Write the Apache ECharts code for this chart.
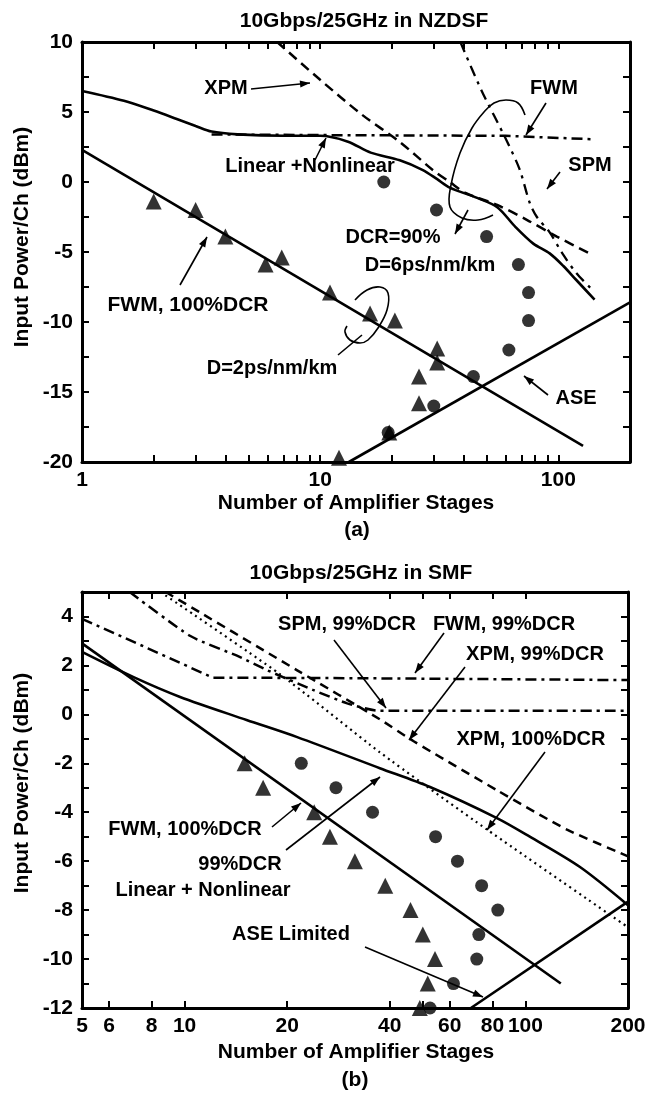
<!DOCTYPE html>
<html><head><meta charset="utf-8">
<script src="https://cdn.jsdelivr.net/npm/echarts@6/dist/echarts.min.js"></script>
<style>html,body{margin:0;padding:0;background:#fff}#c{width:654px;height:1094px}</style>
</head><body><div id="c"></div>
<script>
// ================= Panel (a): 10Gbps/25GHz in NZDSF =================
const aTitle = '10Gbps/25GHz in NZDSF';
const aLabelsX = [1, 10, 100];
const aTicksX = [1,2,3,4,5,6,7,8,9,10,20,30,40,50,60,70,80,90,100,200];
const aLabelsY = [-20, -15, -10, -5, 0, 5, 10];
const aTicksY = [-20,-17.5,-15,-12.5,-10,-7.5,-5,-2.5,0,2.5,5,7.5,10];

// Linear + Nonlinear (solid curve)
const aLinNonX = [1, 1.5, 2, 2.5, 3, 3.5, 4.5, 7, 10, 13, 16.3, 21.6, 27, 31, 35, 45, 55.4, 66, 78.5, 92, 105, 119, 142];
const aLinNonY = [6.5, 5.8, 5.1, 4.5, 4.0, 3.6, 3.4, 3.3, 3.3, 2.9, 2.1, 1.55, 0.85, 0.2, -0.4, -1.1, -1.8, -3.2, -4.4, -5.1, -6.0, -7.0, -8.4];
// XPM (dashed)
const aXpmX = [6.6, 10, 15, 21.6, 29.7, 35, 41, 55.4, 73.7, 98.6, 139];
const aXpmY = [10, 7.3, 4.8, 2.86, 0.86, 0.0, -0.8, -1.64, -2.7, -3.9, -5.2];
// FWM (dash-dot, flat)
const aFwmX = [3.5, 10, 60, 142];
const aFwmY = [3.4, 3.35, 3.3, 3.05];
// SPM (dash-dot, steep)
const aSpmX = [38.8, 47.4, 60.5, 68.8, 75.9, 81.3, 92, 104, 119, 139];
const aSpmY = [10, 6.6, 3.0, 0.9, -1.5, -2.5, -3.6, -5.1, -6.5, -7.7];
// FWM, 100% DCR (straight solid)
const aFwm100X = [1, 127];
const aFwm100Y = [2.3, -18.85];
// ASE (straight solid)
const aAseX = [13.2, 200];
const aAseY = [-20, -8.6];
// Triangles: D=2ps/nm/km
const aTriX = [2, 3, 4, 5.9, 6.9, 11, 16.2, 20.6, 31, 31, 26, 26, 19.5, 12];
const aTriY = [-1.4, -2.0, -3.9, -5.9, -5.4, -7.9, -9.4, -9.9, -11.9, -12.9, -13.9, -15.8, -17.9, -19.7];
// Circles: D=6ps/nm/km
const aCirX = [18.5, 30.8, 50, 68, 75, 75, 62, 44, 30, 19.3];
const aCirY = [0, -2, -3.9, -5.9, -7.9, -9.9, -12, -13.9, -16, -17.9];

// ================= Panel (b): 10Gbps/25GHz in SMF =================
const bTitle = '10Gbps/25GHz in SMF';
const bLabelsX = [5, 6, 8, 10, 20, 40, 60, 80, 100, 200];
const bTicksX = [5, 6, 8, 10, 20, 40, 50, 60, 80, 100, 200];
const bLabelsY = [-12, -10, -8, -6, -4, -2, 0, 2, 4];
const bTicksY = [-12,-11,-10,-9,-8,-7,-6,-5,-4,-3,-2,-1,0,1,2,3,4,5];

// FWM, 99%DCR (dash-dot)
const bFwm99X = [5, 7.8, 12.1, 30, 200];
const bFwm99Y = [3.9, 2.7, 1.5, 1.48, 1.4];
// SPM, 99%DCR (dash-dot)
const bSpm99X = [6.9, 10.4, 14.5, 17.5, 23.8, 30, 37, 200];
const bSpm99Y = [5, 3.2, 2.35, 1.8, 1.0, 0.45, 0.15, 0.15];
// XPM, 99%DCR (dashed)
const bXpm99X = [8.8, 21.4, 37.4, 47, 82.5, 132, 200];
const bXpm99Y = [5, 1.8, -0.2, -1.1, -3.1, -4.7, -5.8];
// XPM, 100%DCR (dotted)
const bXpm100X = [8.5, 19, 37.4, 77, 200];
const bXpm100Y = [5, 1.65, -1.55, -4.7, -8.7];
// Linear + Nonlinear, 99%DCR (solid curve)
const bLinNonX = [5, 7.06, 9.7, 15.2, 21.4, 37.4, 52.5, 82.5, 103, 144.6, 200];
const bLinNonY = [2.55, 1.53, 0.71, -0.23, -0.93, -2.2, -2.97, -4.24, -5.0, -6.24, -7.8];
// FWM, 100%DCR (straight solid)
const bFwm100X = [5, 127];
const bFwm100Y = [2.9, -11.0];
// ASE limited (straight solid)
const bAseX = [69.2, 200];
const bAseY = [-12, -7.65];
// Triangles
const bTriX = [15, 17, 24, 26.7, 31.6, 38.8, 46, 50, 54.3, 51.7, 49];
const bTriY = [-2, -3, -4, -5, -6, -7, -8, -9, -10, -11, -12];
// Circles
const bCirX = [22, 27.8, 35.6, 54.5, 63.2, 74.4, 83, 73, 72, 61.5, 52.5];
const bCirY = [-2, -3, -4, -5, -6, -7, -8, -9, -10, -11, -12];

// ================= build =================
const FONT = '"Liberation Sans", Arial, Helvetica, sans-serif';
const zip = (xs, ys) => xs.map((x, i) => [x, ys[i]]);
const labelStyle = { color: '#000', fontFamily: FONT, fontWeight: 'bold', fontSize: 21 };
const lineAxis = { show: true, onZero: false, lineStyle: { color: '#000', width: 3 } };

function xAx(grid, min, max, pos, labels, ticks, showLabel) {
  return {
    gridIndex: grid, type: 'log', logBase: 10, min: min, max: max, position: pos,
    axisLine: lineAxis,
    axisTick: { show: true, inside: true, length: 7, lineStyle: { color: '#000', width: 2 }, customValues: ticks },
    axisLabel: Object.assign({ show: showLabel, margin: 8, customValues: labels, formatter: v => String(v) }, labelStyle),
    splitLine: { show: false }, minorTick: { show: false }
  };
}
function yAx(grid, min, max, step, pos, labels, ticks, showLabel) {
  return {
    gridIndex: grid, type: 'value', min: min, max: max, interval: step, position: pos,
    axisLine: lineAxis,
    axisTick: { show: true, inside: true, length: 7, lineStyle: { color: '#000', width: 2 }, customValues: ticks },
    axisLabel: Object.assign({ show: showLabel, margin: 9, customValues: labels }, labelStyle),
    splitLine: { show: false }
  };
}
function line(xi, yi, xs, ys, type, width, smooth) {
  return {
    type: 'line', xAxisIndex: xi, yAxisIndex: yi, data: zip(xs, ys), showSymbol: false, symbol: 'none',
    smooth: smooth || false, clip: true, silent: true,
    lineStyle: { color: '#000', width: width, type: type }
  };
}
function scat(xi, yi, xs, ys, sym, size) {
  return {
    type: 'scatter', xAxisIndex: xi, yAxisIndex: yi, data: zip(xs, ys), symbol: sym, symbolSize: size,
    clip: true, itemStyle: { color: '#000' }, silent: true
  };
}

// annotation helpers (pixel layout)
function txt(s, x, y, size, rot) {
  return { type: 'text', x: x, y: y, rotation: rot || 0, z: 100,
    style: { text: s, x: 0, y: 0, align: 'center', verticalAlign: 'middle', fill: '#000',
      font: 'bold ' + (size || 20) + 'px ' + FONT } };
}
function arrow(x1, y1, x2, y2, head) {
  const out = [{ type: 'line', z: 90, shape: { x1: x1, y1: y1, x2: x2, y2: y2 }, style: { stroke: '#000', lineWidth: 1.6 } }];
  if (head !== false) {
    const a = Math.atan2(y2 - y1, x2 - x1), L = 10, W = 3.6;
    const bx = x2 - L * Math.cos(a), by = y2 - L * Math.sin(a);
    out.push({ type: 'polygon', z: 91, shape: { points: [[x2, y2], [bx + W * Math.sin(a), by - W * Math.cos(a)], [bx - W * Math.sin(a), by + W * Math.cos(a)]] }, style: { fill: '#000' } });
  }
  return out;
}
function loop(pts) {
  return { type: 'polyline', z: 90, shape: { points: pts, smooth: 0.4 }, style: { stroke: '#000', lineWidth: 1.6, fill: null } };
}

const graphics = [
  // panel (a)
  txt(aTitle, 364, 21, 21),
  txt('Input Power/Ch (dBm)', 22, 237, 21, Math.PI / 2),
  txt('Number of Amplifier Stages', 356, 503, 21),
  txt('(a)', 357, 530, 21),
  txt('XPM', 226, 88), ...arrow(251, 89, 310, 83),
  txt('FWM', 554, 88), ...arrow(546, 103, 526, 135),
  txt('SPM', 590, 165), ...arrow(560, 172, 547, 189),
  txt('Linear +Nonlinear', 310, 166), ...arrow(315, 160, 326, 138),
  loop([[525, 115], [518, 103], [506, 100], [494, 103], [484, 112], [472, 128], [460, 153], [451, 185], [450, 207], [462, 218], [478, 220], [493, 215]]),
  txt('DCR=90%', 393, 237), ...arrow(468, 210, 455, 234),
  txt('D=6ps/nm/km', 430, 265),
  txt('FWM, 100%DCR', 188, 305, 21), ...arrow(180, 285, 207, 237),
  loop([[355, 300], [367, 290], [380, 287], [388, 293], [387, 310], [378, 328], [368, 340], [360, 343], [350, 340], [345, 332], [347, 326]]),
  ...arrow(338, 355, 362, 335, false),
  txt('D=2ps/nm/km', 272, 368),
  txt('ASE', 576, 398), ...arrow(548, 395, 524, 376),
  // panel (b)
  txt(bTitle, 361, 573, 21),
  txt('Input Power/Ch (dBm)', 22, 783, 21, Math.PI / 2),
  txt('Number of Amplifier Stages', 356, 1052, 21),
  txt('(b)', 355, 1080, 21),
  txt('SPM, 99%DCR', 347, 624), ...arrow(334, 640, 386, 708),
  txt('FWM, 99%DCR', 504, 624), ...arrow(444, 633, 415, 673),
  txt('XPM, 99%DCR', 535, 654), ...arrow(465, 667, 409, 740),
  txt('XPM, 100%DCR', 531, 739), ...arrow(545, 752, 487, 830),
  txt('FWM, 100%DCR', 185, 829), ...arrow(272, 827, 301, 803),
  txt('99%DCR', 240, 864),
  txt('Linear + Nonlinear', 203, 890), ...arrow(286, 850, 380, 777),
  txt('ASE Limited', 291, 934), ...arrow(365, 947, 483, 997)
];

const option = {
  animation: false,
  backgroundColor: '#fff',
  grid: [
    { left: 82, top: 42, width: 548, height: 420, containLabel: false },
    { left: 82, top: 592, width: 546, height: 416, containLabel: false }
  ],
  xAxis: [
    xAx(0, 1, 200, 'bottom', aLabelsX, aTicksX, true),
    xAx(0, 1, 200, 'top', aLabelsX, aTicksX, false),
    xAx(1, 5, 200, 'bottom', bLabelsX, bTicksX, true),
    xAx(1, 5, 200, 'top', bLabelsX, bTicksX, false)
  ],
  yAxis: [
    yAx(0, -20, 10, 2.5, 'left', aLabelsY, aTicksY, true),
    yAx(0, -20, 10, 2.5, 'right', aLabelsY, aTicksY, false),
    yAx(1, -12, 5, 1, 'left', bLabelsY, bTicksY, true),
    yAx(1, -12, 5, 1, 'right', bLabelsY, bTicksY, false)
  ],
  series: [
    line(0, 0, aLinNonX, aLinNonY, 'solid', 2.6, 0.3),
    line(0, 0, aXpmX, aXpmY, [10, 6], 2.5, 0.3),
    line(0, 0, aFwmX, aFwmY, [11, 5, 3, 5], 2.5, false),
    line(0, 0, aSpmX, aSpmY, [11, 6, 3, 6], 2.3, 0.3),
    line(0, 0, aFwm100X, aFwm100Y, 'solid', 2.6, false),
    line(0, 0, aAseX, aAseY, 'solid', 2.6, false),
    scat(0, 0, aTriX, aTriY, 'triangle', 16),
    scat(0, 0, aCirX, aCirY, 'circle', 13),

    line(2, 2, bFwm99X, bFwm99Y, [11, 5, 3, 5], 2.5, false),
    line(2, 2, bSpm99X, bSpm99Y, [11, 5, 3, 5], 2.5, 0.2),
    line(2, 2, bXpm99X, bXpm99Y, [9, 6], 2.5, 0.2),
    line(2, 2, bXpm100X, bXpm100Y, [2, 4], 2.2, 0.2),
    line(2, 2, bLinNonX, bLinNonY, 'solid', 2.6, 0.3),
    line(2, 2, bFwm100X, bFwm100Y, 'solid', 2.6, false),
    line(2, 2, bAseX, bAseY, 'solid', 2.6, false),
    scat(2, 2, bTriX, bTriY, 'triangle', 16),
    scat(2, 2, bCirX, bCirY, 'circle', 13)
  ],
  graphic: graphics
};

const chart = echarts.init(document.getElementById('c'), null, { renderer: 'canvas' });
chart.setOption(option);
</script>
</body></html>
